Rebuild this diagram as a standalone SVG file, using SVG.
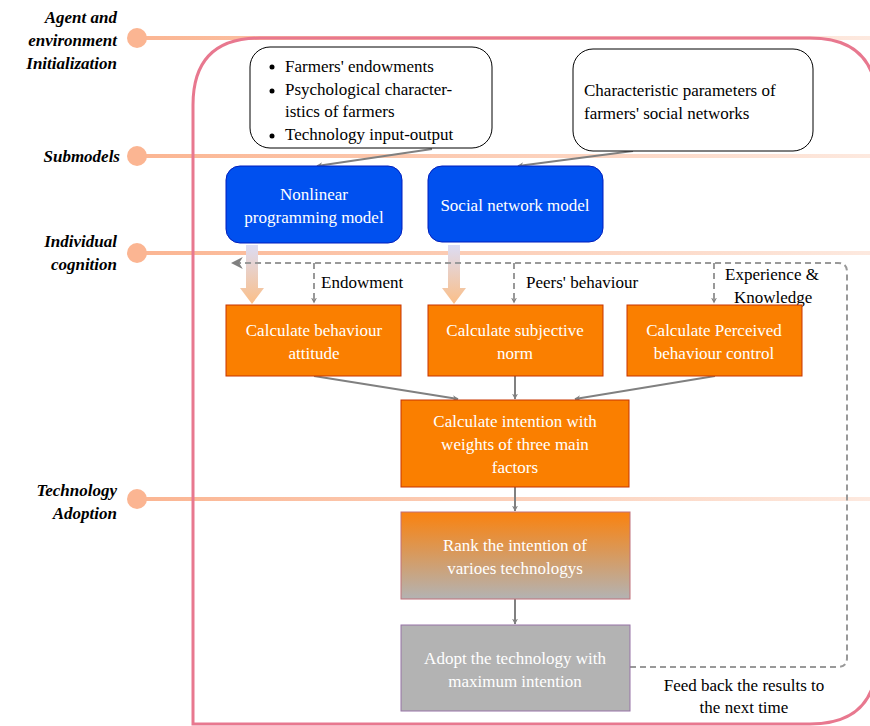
<svg xmlns="http://www.w3.org/2000/svg" width="870" height="726" viewBox="0 0 870 726" font-family="Tinos, 'Times New Roman', 'Liberation Serif', 'DejaVu Serif', 'Noto Serif', serif" font-size="17">
<defs>
<linearGradient id="lane" gradientUnits="userSpaceOnUse" x1="137" y1="0" x2="870" y2="0">
<stop offset="0" stop-color="#fbb592"/>
<stop offset="1" stop-color="#fde9df"/>
</linearGradient>
<linearGradient id="fat" x1="0" y1="0" x2="0" y2="1">
<stop offset="0" stop-color="#dcdcf4"/>
<stop offset="1" stop-color="#fbbf88"/>
</linearGradient>
<linearGradient id="rank" x1="0" y1="0" x2="0" y2="1">
<stop offset="0" stop-color="#fa820e"/>
<stop offset="1" stop-color="#b3b3b3"/>
</linearGradient>
<marker id="ah" viewBox="0 0 10 10" refX="9" refY="5" markerWidth="6" markerHeight="6" orient="auto" markerUnits="userSpaceOnUse">
<path d="M0,0 L10,5 L0,10 L3,5 Z" fill="#808080"/>
</marker>
<marker id="ahb" viewBox="0 0 10 10" refX="9" refY="5" markerWidth="12" markerHeight="12" orient="auto" markerUnits="userSpaceOnUse">
<path d="M0,0 L10,5 L0,10 L3,5 Z" fill="#808080"/>
</marker>
</defs>
<style>
.lane{stroke:url(#lane);stroke-width:4;fill:none}
.dot{fill:#fbb592}
.lab{font-weight:bold;font-style:italic;fill:#000;text-anchor:end}
.t{fill:#000}
.w{fill:#fff;text-anchor:middle}
.blue{fill:#0050ef;stroke:#001dbc;stroke-width:1}
.org{fill:#fa7f00;stroke:#c73500;stroke-width:1}
.note{fill:#fff;stroke:#000;stroke-width:1}
.arr{stroke:#808080;stroke-width:2;fill:none;marker-end:url(#ah)}
.dash{stroke:#999;stroke-width:2;fill:none;stroke-dasharray:6 4}
</style>
<g id="lanes">
<line class="lane" x1="137" y1="38" x2="870" y2="38"/>
<line class="lane" x1="137" y1="156" x2="870" y2="156"/>
<line class="lane" x1="137" y1="253" x2="870" y2="253"/>
<line class="lane" x1="137" y1="499" x2="870" y2="499"/>
<circle class="dot" cx="137" cy="38" r="10"/>
<circle class="dot" cx="137" cy="156" r="10"/>
<circle class="dot" cx="137" cy="253" r="10"/>
<circle class="dot" cx="137" cy="499" r="10"/>
<text class="lab" x="117" y="23">Agent and</text>
<text class="lab" x="117" y="46">environment</text>
<text class="lab" x="117" y="69">Initialization</text>
<text class="lab" x="120" y="162">Submodels</text>
<text class="lab" x="117" y="247">Individual</text>
<text class="lab" x="117" y="270">cognition</text>
<text class="lab" x="117" y="496">Technology</text>
<text class="lab" x="117" y="519">Adoption</text>
</g>
<g id="frame">
<path d="M193,724 L193,105 Q193,38 260,38 L810,38 Q877,38 877,105 L877,657 Q877,724 810,724 Z" fill="none" stroke="#e8788f" stroke-width="3"/>
</g>
<g id="connectors">
<line class="arr" x1="432" y1="149" x2="317" y2="166"/>
<line class="arr" x1="633" y1="151" x2="518" y2="166"/>
<path d="M246,245 L258,245 L258,288 L264,288 L252,304 L240,288 L246,288 Z" fill="url(#fat)"/>
<path d="M448,245 L460,245 L460,288 L466,288 L454,304 L442,288 L448,288 Z" fill="url(#fat)"/>
<path class="dash" d="M630,667 L838,667 Q847,667 847,658 L847,272 Q847,263 838,263 L232,263" marker-end="url(#ahb)"/>
<path class="dash" d="M314,263 L314,303" marker-end="url(#ah)"/>
<path class="dash" d="M514,263 L514,303" marker-end="url(#ah)"/>
<path class="dash" d="M714,263 L714,303" marker-end="url(#ah)"/>
<line class="arr" x1="314" y1="376" x2="458" y2="399"/>
<line class="arr" x1="515" y1="376" x2="515" y2="399"/>
<line class="arr" x1="715" y1="376" x2="575" y2="399"/>
<line class="arr" x1="515" y1="487" x2="515" y2="511"/>
<line class="arr" x1="515" y1="599" x2="515" y2="624"/>
<text class="t" x="321" y="288">Endowment</text>
<text class="t" x="526" y="288">Peers' behaviour</text>
<text class="t" x="725" y="280">Experience &amp;</text>
<text class="t" x="734" y="303">Knowledge</text>
<text class="t" x="744" y="691" text-anchor="middle">Feed back the results to</text>
<text class="t" x="744" y="713" text-anchor="middle">the next time</text>
</g>
<g id="inputs">
<rect class="note" x="250" y="47" width="242" height="101" rx="20"/>
<circle cx="272" cy="67" r="2.5"/>
<circle cx="272" cy="91" r="2.5"/>
<circle cx="272" cy="136" r="2.5"/>
<text class="t" x="285" y="72">Farmers' endowments</text>
<text class="t" x="285" y="95">Psychological character-</text>
<text class="t" x="285" y="117">istics of farmers</text>
<text class="t" x="285" y="140">Technology input-output</text>
</g>
<g id="network-params">
<rect class="note" x="573" y="49" width="240" height="102" rx="20"/>
<text class="t" x="584" y="96">Characteristic parameters of</text>
<text class="t" x="584" y="119">farmers' social networks</text>
</g>
<g id="nlp">
<rect class="blue" x="226" y="166" width="176" height="77" rx="14"/>
<text class="w" x="314" y="200">Nonlinear</text>
<text class="w" x="314" y="223">programming model</text>
</g>
<g id="snm">
<rect class="blue" x="428" y="166" width="175" height="76" rx="14"/>
<text class="w" x="515" y="211">Social network model</text>
</g>
<g id="attitude">
<rect class="org" x="226" y="305" width="175" height="71"/>
<text class="w" x="314" y="336">Calculate behaviour</text>
<text class="w" x="314" y="359">attitude</text>
</g>
<g id="norm">
<rect class="org" x="428" y="305" width="175" height="71"/>
<text class="w" x="515" y="336">Calculate subjective</text>
<text class="w" x="515" y="359">norm</text>
</g>
<g id="control">
<rect class="org" x="627" y="305" width="175" height="71"/>
<text class="w" x="714" y="336">Calculate Perceived</text>
<text class="w" x="714" y="359">behaviour control</text>
</g>
<g id="intention">
<rect class="org" x="401" y="400" width="228" height="87"/>
<text class="w" x="515" y="427">Calculate intention with</text>
<text class="w" x="515" y="450">weights of three main</text>
<text class="w" x="515" y="473">factors</text>
</g>
<g id="rank-node">
<rect x="401" y="512" width="229" height="87" fill="url(#rank)" stroke="#c0707a" stroke-width="1"/>
<text class="w" x="515" y="551">Rank the intention of</text>
<text class="w" x="515" y="574">varioes technologys</text>
</g>
<g id="adopt">
<rect x="401" y="625" width="229" height="86" fill="#b3b3b3" stroke="#9673a6" stroke-width="1"/>
<text class="w" x="515" y="664">Adopt the technology with</text>
<text class="w" x="515" y="687">maximum intention</text>
</g>
</svg>
